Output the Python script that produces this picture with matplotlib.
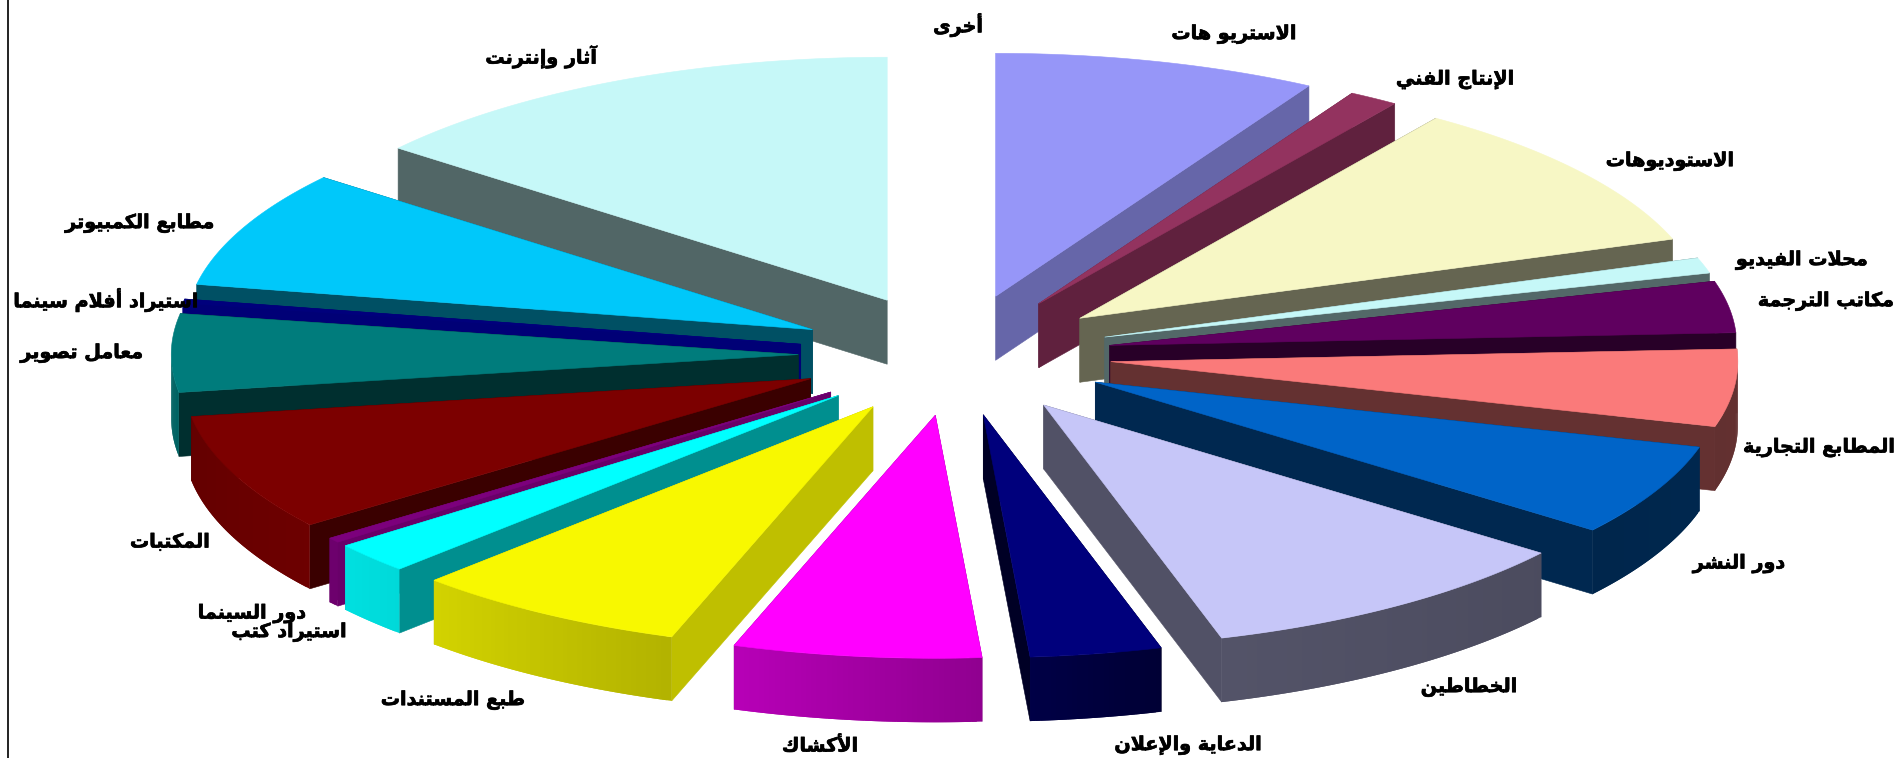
import unicodedata
import numpy as np
import matplotlib
matplotlib.use("Agg")
import matplotlib.pyplot as plt
import matplotlib.patheffects as pe
from matplotlib.colors import to_rgb

# ---------- data (clockwise from 12 o'clock) ----------
categories = ["الاستريو هات", "الإنتاج الفني", "الاستوديوهات", "محلات الفيديو", "مكاتب الترجمة",
              "المطابع التجارية", "دور النشر", "الخطاطين", "الدعاية والإعلان", "الأكشاك",
              "طبع المستندات", "استيراد كتب", "دور السينما", "المكتبات", "معامل تصوير",
              "استيراد أفلام سينما", "مطابع الكمبيوتر", "آثار وإنترنت", "أخرى"]
values = [8.33, 1.28, 10.11, 1.03, 3.42, 5.14, 6.11, 10.00, 3.39, 6.39,
          7.14, 2.06, 0.33, 7.78, 5.19, 0.28, 7.78, 14.24, 0.0]
colors = ["#9696F8", "#93335F", "#F7F7C5", "#C6F8F8", "#5F005F", "#FA7A7A", "#0064C8", "#C6C6F8",
          "#00007C", "#FF00FF", "#F8F800", "#00FFFF", "#7C007C", "#7C0000", "#007C7C", "#00007C",
          "#00C8FA", "#C6F8F8", "#FFFFFF"]
cut_shade = [0.68, 0.65, 0.41, 0.42, 0.42, 0.40, 0.40, 0.41, 0.30, 0.50,
             0.77, 0.56, 0.85, 0.47, 0.38, 0.95, 0.40, 0.41, 0.40]

# ---------- layout (pixels) ----------
W, H = 1903, 758
CX, CY, RX, RY = 955, 355, 627, 243
DEPTH, EXPLODE = 64, 0.25
wall_angles = [90, 127, 163, 175, 198.6, 224, 232, 261, 270]
wall_shades = [0.40, 0.38, 0.42, 0.56, 0.72, 0.85, 0.88, 0.80, 0.78]
label_xy = [(1234, 34), (1455, 80), (1670, 161), (1802, 260), (1826, 301), (1819, 448), (1739, 564),
            (1469, 687), (1188, 745), (820, 746), (453, 700), (289, 632), (252, 614), (170, 542),
            (82, 353), (106, 300), (140, 223), (541, 57), (958, 25)]


# ---------- Arabic shaping: matplotlib has no shaper ----------
def _build_forms():
    forms, ligs = {}, {}
    for cp in list(range(0xFE70, 0xFEFD)):
        d = unicodedata.decomposition(chr(cp)).split()
        if len(d) < 2 or not d[0].startswith("<"):
            continue
        kind = d[0].strip("<>")
        base = [chr(int(x, 16)) for x in d[1:]]
        if len(base) == 1:
            forms.setdefault(base[0], {})[kind] = chr(cp)
        elif len(base) == 2 and base[0] == "\u0644":
            ligs.setdefault(base[1], {})[kind] = chr(cp)
    return forms, ligs


FORMS, LIGS = _build_forms()


def shape(text):
    chars = list(text)
    out, i = [], 0

    def joins_next(c):
        return c in FORMS and "initial" in FORMS[c] or c in FORMS and "medial" in FORMS[c]

    while i < len(chars):
        c = chars[i]
        if c not in FORMS:
            out.append(c)
            i += 1
            continue
        prev = chars[i - 1] if i > 0 else " "
        joined_prev = joins_next(prev)
        if c == "\u0644" and i + 1 < len(chars) and chars[i + 1] in LIGS:
            out.append(LIGS[chars[i + 1]]["final" if joined_prev else "isolated"])
            i += 2
            continue
        nxt = chars[i + 1] if i + 1 < len(chars) else " "
        joined_next = joins_next(c) and nxt in FORMS
        f = FORMS[c]
        if joined_prev and joined_next:
            g = f.get("medial", f.get("final"))
        elif joined_prev:
            g = f.get("final", f.get("isolated"))
        elif joined_next:
            g = f.get("initial", f.get("isolated"))
        else:
            g = f.get("isolated", c)
        out.append(g)
        i += 1
    return "".join(reversed(out))


# ---------- drawing ----------
fig = plt.figure(figsize=(W / 100, H / 100), dpi=100, facecolor="white")
ax = fig.add_axes([0, 0, 1, 1])
ax.set_xlim(0, W)
ax.set_ylim(H, 0)
ax.axis("off")

edges = np.cumsum([0] + values) / sum(values) * 360.0


def pt(theta, ox=0.0, oy=0.0):
    t = np.radians(theta)
    return ox + CX + RX * np.sin(t), oy + CY - RY * np.cos(t)


def shaded(col, k):
    return tuple(np.array(to_rgb(col)) * k)


z = [10]


def poly(xs, ys, col, lw=0.4):
    z[0] += 1
    ax.fill(xs, ys, facecolor=col, edgecolor=col if lw else "none", linewidth=lw, zorder=z[0])


mids = (edges[:-1] + edges[1:]) / 2
order = np.argsort(-np.cos(np.radians(mids)))
for i in order:
    if values[i] <= 0:
        continue
    a, b, m = edges[i], edges[i + 1], mids[i]
    ox = EXPLODE * RX * np.sin(np.radians(m))
    oy = -EXPLODE * RY * np.cos(np.radians(m))
    ax0, ay0 = CX + ox, CY + oy
    col = colors[i]
    cut = shaded(col, cut_shade[i])
    # cut faces (a face at exactly 12 o'clock is edge-on and is skipped)
    for e in (a, b):
        if abs(np.sin(np.radians(e))) < 1e-3:
            continue
        px, py = pt(e, ox, oy)
        poly([ax0, px, px, ax0], [ay0, py, py + DEPTH, ay0 + DEPTH], cut)
    # outer wall, front half only: overlapping strips give a smooth shade by angle
    lo, hi = max(a, 90), min(b, 270)
    if hi > lo:
        n = max(2, int((hi - lo) * 2) + 2)
        steps = np.linspace(lo, hi, n)
        for j in range(n - 1):
            t0, t1 = steps[j], steps[min(j + 2, n - 1)]
            tt = np.linspace(t0, t1, 4)
            xs, ys = pt(tt, ox, oy)
            k = np.interp(steps[j], wall_angles, wall_shades)
            poly(np.r_[xs, xs[::-1]], np.r_[ys, ys[::-1] + DEPTH], shaded(col, k), lw=0)
    # top surface
    th = np.linspace(a, b, max(3, int(b - a) * 2 + 2))
    px, py = pt(th, ox, oy)
    poly(np.r_[ax0, px], np.r_[ay0, py], col)

for name, (x, y) in zip(categories, label_xy):
    ax.text(x, y, shape(name), ha="center", va="center", fontsize=13.8, fontweight="bold",
            family="DejaVu Sans", color="black", zorder=5000,
            path_effects=[pe.withStroke(linewidth=0.5, foreground="black")])

# left border of the chart area
ax.axvline(8, color="#222222", linewidth=1.4, zorder=6000)

fig.savefig("out.png", dpi=100, facecolor="white")
